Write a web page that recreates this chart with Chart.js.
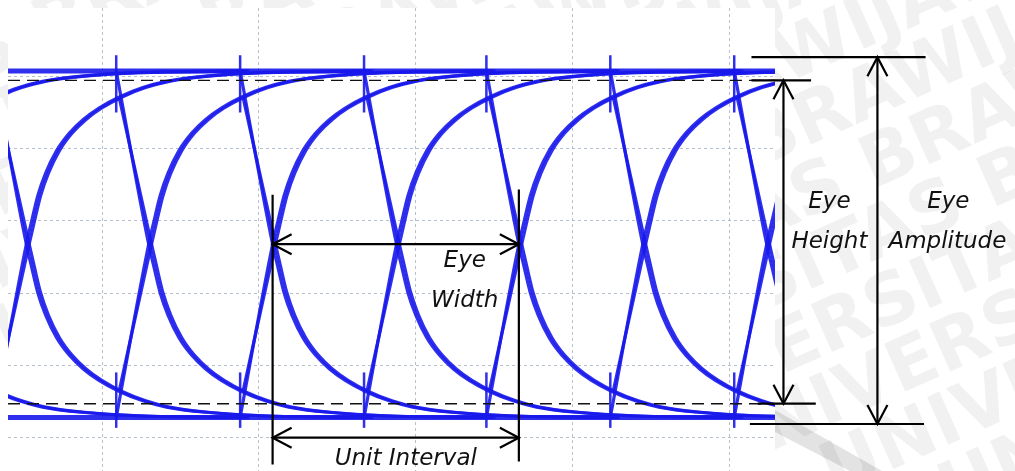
<!DOCTYPE html>
<html>
<head>
<meta charset="utf-8">
<title>Eye diagram</title>
<script src="https://cdn.jsdelivr.net/npm/chart.js@4.4.0/dist/chart.umd.min.js"></script>
<style>
  html, body { margin: 0; padding: 0; background: #fff; }
  #wrap { width: 1015px; height: 471px; position: relative; }
</style>
</head>
<body>
<div id="wrap"><canvas id="eyeChart"></canvas></div>
<script>
// both axes are in scope divisions
const xRange = [-0.6, 4.29];
const yRange = [-0.46, 5.94];
const gridX = [0, 1, 2, 3, 4];
const gridY = [0, 1, 2, 3, 4, 5];

// bit edges
const edgeTimes = [-1.48, -0.69, 0.09, 0.88, 1.67, 2.45, 3.24, 4.03];
// two overlaid captures, a little apart in time
const captureSkew = [0, 0.018];

// flat low / high rails
const lowLevel = 0.28;
const highLevel = 5.07;

// one rising edge: time after the edge, fraction of the swing
const riseTime  = [0, 0.207, 0.24, 0.28, 0.33, 0.40, 0.48, 0.57, 0.67, 0.80, 0.95, 1.10, 1.35, 1.70, 2.40];
const riseLevel = [0, 0.50, 0.565, 0.64, 0.705, 0.77, 0.82, 0.86, 0.893, 0.925, 0.952, 0.97, 0.985, 0.995, 1.0];
// where an edge starts: from the rail, or after one single bit
const startLevels = [0, 0.075];

// noise spikes on the rails at each edge (fraction of swing)
const spikeTop = [1.045, 0.88];
const spikeBottom = [-0.03, 0.13];

// eye opening levels (dashed) and amplitude marks
const eyeTop = 4.94;
const eyeBottom = 0.47;
const ampTop = 5.26;
const ampBottom = 0.19;

const BLUE = 'rgba(24, 24, 235, 0.9)';

function lvl(f) {
    return lowLevel + (highLevel - lowLevel) * f;
}

const datasets = [];

// dashed eye height lines, on top of the traces
[eyeTop, eyeBottom].forEach(y => {
    datasets.push({
        data: [{ x: xRange[0], y: y }, { x: xRange[1], y: y }],
        borderColor: '#111',
        borderWidth: 1.4,
        borderDash: [12, 7],
        order: 0
    });
});

// flat rails
[highLevel, lowLevel].forEach(y => {
    datasets.push({
        data: [{ x: xRange[0], y: y }, { x: xRange[1], y: y }],
        borderColor: BLUE,
        borderWidth: 5,
        order: 2
    });
});

edgeTimes.forEach(e => {
    startLevels.forEach((s, si) => {
        const t0 = e + captureSkew[si];
        const rise = riseTime.map((t, i) => ({ x: t0 + t, y: lvl(i === 0 ? s : riseLevel[i]) }));
        const fall = riseTime.map((t, i) => ({ x: t0 + t, y: lvl(1 - (i === 0 ? s : riseLevel[i])) }));
        [rise, fall].forEach(pts => {
            datasets.push({
                data: pts,
                borderColor: BLUE,
                borderWidth: 3.2,
                cubicInterpolationMode: 'monotone',
                order: 1
            });
        });
    });
    [spikeTop, spikeBottom].forEach(sp => {
        datasets.push({
            data: [{ x: e, y: lvl(sp[0]) }, { x: e, y: lvl(sp[1]) }],
            borderColor: BLUE,
            borderWidth: 2.5,
            order: 1
        });
    });
});

// watermark behind everything, plot window painted white
const backdrop = {
    id: 'backdrop',
    beforeDraw(chart) {
        const ctx = chart.ctx;
        const a = chart.chartArea;
        ctx.save();
        ctx.fillStyle = '#fff';
        ctx.fillRect(0, 0, chart.width, chart.height);

        ctx.rotate(-24 * Math.PI / 180);
        ctx.font = 'bold 72px "DejaVu Sans"';
        ctx.fillStyle = 'rgba(0, 0, 0, 0.055)';
        const row = 'UNIVERSITAS BRAWIJAYA '.repeat(6);
        for (let k = -4; k < 14; k++) {
            ctx.fillText(row, -640 + k * 100, k * 66);
        }
        ctx.restore();

        // grey diagonal band bottom right
        ctx.save();
        ctx.fillStyle = 'rgba(0, 0, 0, 0.11)';
        ctx.beginPath();
        ctx.moveTo(a.right, 410);
        ctx.lineTo(a.right, 432);
        ctx.lineTo(850, 471);
        ctx.lineTo(882, 471);
        ctx.closePath();
        ctx.fill();
        ctx.restore();

        ctx.fillStyle = '#fff';
        ctx.fillRect(a.left, a.top, a.right - a.left, a.bottom - a.top);
    }
};

function seg(ctx, x1, y1, x2, y2) {
    ctx.beginPath();
    ctx.moveTo(x1, y1);
    ctx.lineTo(x2, y2);
    ctx.stroke();
}

// open chevron head, tip at (x, y), pointing along (dx, dy)
function head(ctx, x, y, dx, dy) {
    const len = 19, half = 10;
    const bx = x - dx * len, by = y - dy * len;
    ctx.beginPath();
    ctx.moveTo(bx - dy * half, by + dx * half);
    ctx.lineTo(x, y);
    ctx.lineTo(bx + dy * half, by - dx * half);
    ctx.stroke();
}

const annotations = {
    id: 'annotations',
    afterDraw(chart) {
        const ctx = chart.ctx;
        const xs = chart.scales.x, ys = chart.scales.y;
        const X = v => xs.getPixelForValue(v);
        const Y = v => ys.getPixelForValue(v);
        ctx.save();
        ctx.strokeStyle = '#000';
        ctx.lineWidth = 2.2;

        // eye width / unit interval between two crossings
        const xl = X(edgeTimes[3] + riseTime[1]);
        const xr = X(edgeTimes[5] + riseTime[1]);
        const ym = Y(lvl(0.5));
        seg(ctx, xl, Y(3.36), xl, Y(-0.37));
        seg(ctx, xr, Y(3.43), xr, Y(-0.33));
        seg(ctx, xl, ym, xr, ym);
        head(ctx, xl, ym, -1, 0);
        head(ctx, xr, ym, 1, 0);
        const yu = Y(0);
        seg(ctx, xl, yu, xr, yu);
        head(ctx, xl, yu, -1, 0);
        head(ctx, xr, yu, 1, 0);

        // eye height
        const xh = X(4.344);
        seg(ctx, X(4.14), Y(eyeTop), X(4.52), Y(eyeTop));
        seg(ctx, X(4.18), Y(eyeBottom), X(4.55), Y(eyeBottom));
        seg(ctx, xh, Y(eyeTop), xh, Y(eyeBottom));
        head(ctx, xh, Y(eyeTop), 0, -1);
        head(ctx, xh, Y(eyeBottom), 0, 1);

        // eye amplitude
        const xa = X(4.943);
        seg(ctx, X(4.14), Y(ampTop), X(5.25), Y(ampTop));
        seg(ctx, X(4.13), Y(ampBottom), X(5.24), Y(ampBottom));
        seg(ctx, xa, Y(ampTop), xa, Y(ampBottom));
        head(ctx, xa, Y(ampTop), 0, -1);
        head(ctx, xa, Y(ampBottom), 0, 1);

        ctx.fillStyle = '#111';
        ctx.font = 'italic 23px "DejaVu Sans"';
        ctx.textAlign = 'center';
        ctx.textBaseline = 'alphabetic';
        ctx.fillText('Eye', X(2.312), Y(2.362));
        ctx.fillText('Width', X(2.312), Y(1.813));
        ctx.fillText('Unit Interval', X(1.936), Y(-0.373));
        ctx.fillText('Eye', X(4.637), Y(3.177));
        ctx.fillText('Height', X(4.637), Y(2.624));
        ctx.fillText('Eye', X(5.395), Y(3.177));
        ctx.fillText('Amplitude', X(5.389), Y(2.624));
        ctx.restore();
    }
};

const gridStyle = {
    display: true,
    color: 'rgba(150, 168, 185, 0.7)',
    lineWidth: 1,
    drawTicks: false
};

new Chart(document.getElementById('eyeChart').getContext('2d'), {
    type: 'line',
    data: { datasets: datasets },
    options: {
        responsive: true,
        maintainAspectRatio: false,
        devicePixelRatio: 1,
        animation: false,
        events: [],
        layout: { padding: { left: 8, top: 8, right: 240, bottom: 0 } },
        elements: { point: { radius: 0 }, line: { fill: false } },
        plugins: { legend: { display: false }, tooltip: { enabled: false } },
        scales: {
            x: {
                type: 'linear',
                min: xRange[0],
                max: xRange[1],
                afterBuildTicks: s => { s.ticks = gridX.map(v => ({ value: v })); },
                ticks: { display: false },
                grid: gridStyle,
                border: { display: false, dash: [3, 3] }
            },
            y: {
                type: 'linear',
                min: yRange[0],
                max: yRange[1],
                afterBuildTicks: s => { s.ticks = gridY.map(v => ({ value: v })); },
                ticks: { display: false },
                grid: gridStyle,
                border: { display: false, dash: [3, 3] }
            }
        }
    },
    plugins: [backdrop, annotations]
});
</script>
</body>
</html>
